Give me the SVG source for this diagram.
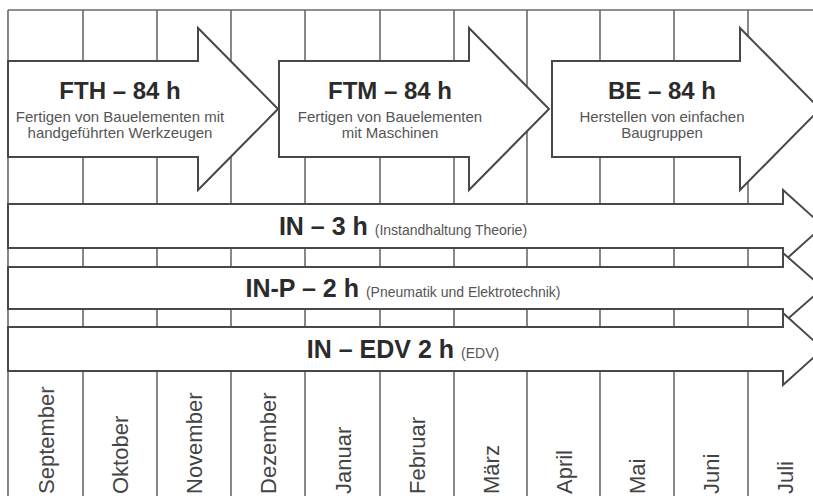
<svg xmlns="http://www.w3.org/2000/svg" width="813" height="496" viewBox="0 0 813 496">
<style>
.grid{stroke:#6a6a6a;stroke-width:1.6;fill:none}
.arrow{fill:#ffffff;stroke:#484848;stroke-width:2;stroke-linejoin:miter}
.title{font-family:"Liberation Sans",Arial,sans-serif;font-weight:bold;fill:#2b2b2b;text-anchor:middle}
.sub{font-family:"Liberation Sans",Arial,sans-serif;font-size:15px;fill:#555555;text-anchor:middle}
.small{font-family:"Liberation Sans",Arial,sans-serif;font-size:14px;font-weight:normal;fill:#555555}
.month{font-family:"Liberation Sans",Arial,sans-serif;font-size:22px;fill:#444444}
</style>
<rect width="813" height="496" fill="#ffffff"/>
<g id="grid">
<line class="grid" x1="8" y1="10" x2="813" y2="10"/>
<line class="grid" x1="8" y1="10" x2="8" y2="496"/>
<line class="grid" x1="83" y1="10" x2="83" y2="496"/>
<line class="grid" x1="157" y1="10" x2="157" y2="496"/>
<line class="grid" x1="231" y1="10" x2="231" y2="496"/>
<line class="grid" x1="305" y1="10" x2="305" y2="496"/>
<line class="grid" x1="380" y1="10" x2="380" y2="496"/>
<line class="grid" x1="454" y1="10" x2="454" y2="496"/>
<line class="grid" x1="527" y1="10" x2="527" y2="496"/>
<line class="grid" x1="600" y1="10" x2="600" y2="496"/>
<line class="grid" x1="674" y1="10" x2="674" y2="496"/>
<line class="grid" x1="748" y1="10" x2="748" y2="496"/>
</g>
<g id="FTH">
<path class="arrow" d="M8,61 H198 V28 L278,109 L198,190 V157 H8 Z"/>
<text class="title" x="120" y="99" font-size="24">FTH – 84 h</text>
<text class="sub" x="120" y="121.5">Fertigen von Bauelementen mit</text>
<text class="sub" x="120" y="138">handgeführten Werkzeugen</text>
</g>
<g id="FTM">
<path class="arrow" d="M279,61 H469 V28 L549,109 L469,190 V157 H279 Z"/>
<text class="title" x="390" y="99" font-size="24">FTM – 84 h</text>
<text class="sub" x="390" y="121.5">Fertigen von Bauelementen</text>
<text class="sub" x="390" y="138">mit Maschinen</text>
</g>
<g id="BE">
<path class="arrow" d="M552,61 H740 V28 L820,109 L740,190 V157 H552 Z"/>
<text class="title" x="662" y="99" font-size="24">BE – 84 h</text>
<text class="sub" x="662" y="121.5">Herstellen von einfachen</text>
<text class="sub" x="662" y="138">Baugruppen</text>
</g>
<g id="IN">
<path class="arrow" d="M8,204 H783 V190 L823,226 L783,262 V248 H8 Z"/>
<text class="title" x="403" y="235" font-size="25">IN – 3 h <tspan class="small">(Instandhaltung Theorie)</tspan></text>
</g>
<g id="IN-P">
<path class="arrow" d="M8,267 H783 V253 L823,288 L783,323 V309 H8 Z"/>
<text class="title" x="403" y="297" font-size="25">IN-P – 2 h <tspan class="small">(Pneumatik und Elektrotechnik)</tspan></text>
</g>
<g id="IN-EDV">
<path class="arrow" d="M8,327 H783 V313 L823,349 L783,385 V371 H8 Z"/>
<text class="title" x="403" y="357.5" font-size="25">IN – EDV 2 h <tspan class="small">(EDV)</tspan></text>
</g>
<g id="months">
<text class="month" transform="translate(53.5,494) rotate(-90)">September</text>
<text class="month" transform="translate(128,494) rotate(-90)">Oktober</text>
<text class="month" transform="translate(202,494) rotate(-90)">November</text>
<text class="month" transform="translate(276,494) rotate(-90)">Dezember</text>
<text class="month" transform="translate(350.5,494) rotate(-90)">Januar</text>
<text class="month" transform="translate(425,494) rotate(-90)">Februar</text>
<text class="month" transform="translate(498.5,494) rotate(-90)">März</text>
<text class="month" transform="translate(571.5,494) rotate(-90)">April</text>
<text class="month" transform="translate(645,494) rotate(-90)">Mai</text>
<text class="month" transform="translate(719,494) rotate(-90)">Juni</text>
<text class="month" transform="translate(793,494) rotate(-90)">Juli</text>
</g>
</svg>
